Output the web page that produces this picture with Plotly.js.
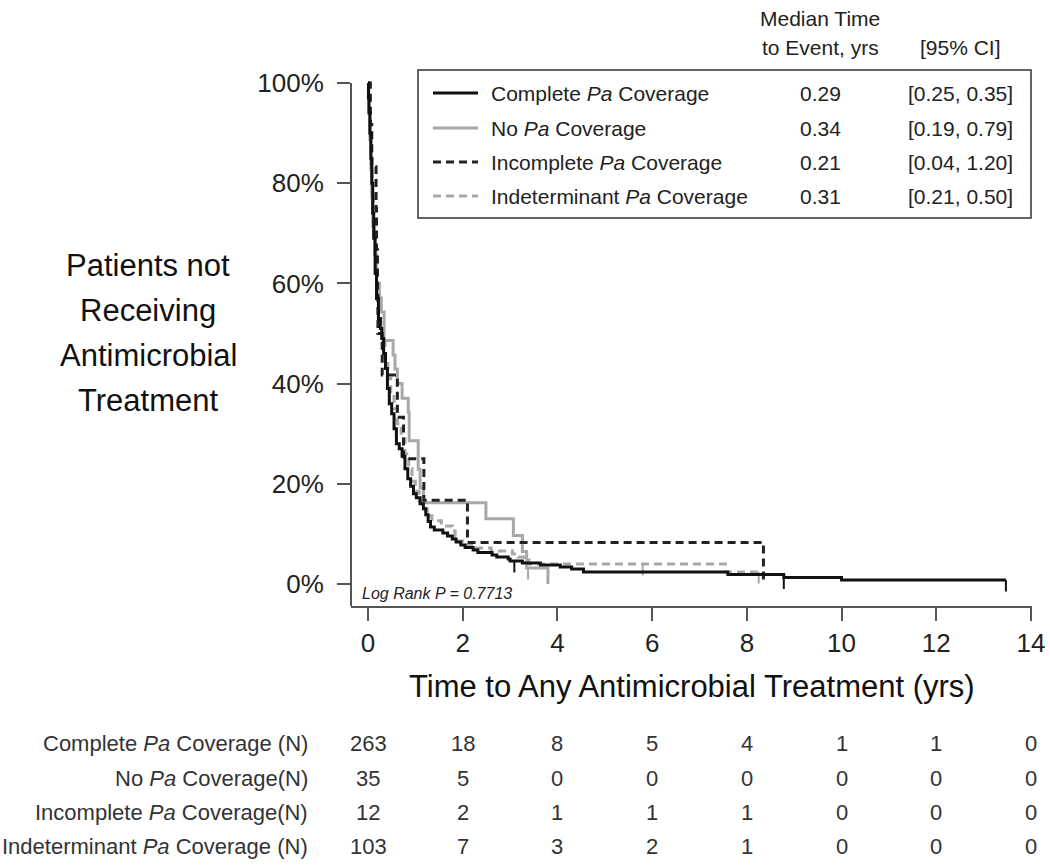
<!DOCTYPE html>
<html><head><meta charset="utf-8">
<script src="https://cdn.plot.ly/plotly-3.0.1.min.js"></script>
<style>html,body{margin:0;padding:0;background:#fff}</style>
</head><body><div id="chart" style="width:1050px;height:868px"></div>
<script>
// ---------- DATA ----------
const groupLabels = ['Complete <i>Pa</i> Coverage', 'No <i>Pa</i> Coverage', 'Incomplete <i>Pa</i> Coverage', 'Indeterminant <i>Pa</i> Coverage'];
const riskLabels = ['Complete <i>Pa</i> Coverage (N)', 'No <i>Pa</i> Coverage(N)', 'Incomplete <i>Pa</i> Coverage(N)', 'Indeterminant <i>Pa</i> Coverage (N)'];
const medianTimes = ['0.29', '0.34', '0.21', '0.31'];
const ciLabels = ['[0.25, 0.35]', '[0.19, 0.79]', '[0.04, 1.20]', '[0.21, 0.50]'];

const completeTime = [0,0.01,0.02,0.04,0.06,0.08,0.10,0.12,0.15,0.18,0.22,0.26,0.29,0.33,0.37,0.41,0.45,0.50,0.55,0.60,0.66,0.72,0.78,0.84,0.90,0.96,1.02,1.10,1.17,1.22,1.27,1.32,1.40,1.58,1.68,1.78,1.86,1.96,2.05,2.22,2.32,2.62,2.72,2.96,3.00,3.26,3.64,4.06,4.30,4.55,7.60,8.78,10.0,13.47];
const completeSurv = [100,97,94,90,85,80,74,69,62,57,53,51,49,46,43,39,36,34,31,28,27,25.5,23,21,19.5,18,17.2,16,15,13.8,12.5,11.4,10.8,10.2,9.6,9.0,8.4,7.8,7.3,6.8,6.3,5.8,5.4,5.0,4.6,4.2,3.8,3.4,3.0,2.4,1.9,1.3,0.8,0.8];
const completeCensor = [3.09, 8.78, 13.47];

const noPaTime = [0,0.02,0.04,0.06,0.08,0.10,0.14,0.18,0.24,0.28,0.34,0.53,0.57,0.62,0.72,0.85,0.87,1.06,1.10,1.17,2.49,3.07,3.26,3.35,3.80];
const noPaSurv = [100,94.3,88.6,82.9,77.1,71.4,65.7,60,57.1,54.3,48.6,45.7,42.9,40.0,37.1,34.3,28.6,22.9,19.2,16.2,13.0,9.7,6.5,3.2,0];
const noPaCensor = [3.38];

const incompleteTime = [0,0.05,0.08,0.17,0.18,0.20,0.21,0.30,0.62,0.75,1.18,2.10,8.35];
const incompleteSurv = [100,91.7,83.3,75,66.7,58.3,50,41.7,33.3,25,16.7,8.3,0];
const incompleteCensor = [];

const indetTime = [0,0.01,0.03,0.05,0.07,0.09,0.12,0.15,0.19,0.23,0.27,0.31,0.36,0.42,0.48,0.55,0.62,0.70,0.78,0.86,0.93,1.00,1.08,1.17,1.25,1.35,1.55,1.78,1.84,1.88,2.05,2.28,2.60,3.05,3.17,3.30,3.40,7.55,8.25];
const indetSurv = [100,97,93,88,83,78,72,66,60,56,52,49,45,41,38,35,32,29,26,23,20.5,18.5,16.5,15,13.6,12.6,11.6,10.6,9.5,8.6,7.8,7.2,6.6,6.0,5.4,4.8,4.0,2.4,2.4];
const indetCensor = [5.8, 8.25];

const riskTimes = [0, 2, 4, 6, 8, 10, 12, 14];
const riskComplete = [263, 18, 8, 5, 4, 1, 1, 0];
const riskNoPa = [35, 5, 0, 0, 0, 0, 0, 0];
const riskIncomplete = [12, 2, 1, 1, 1, 0, 0, 0];
const riskIndet = [103, 7, 3, 2, 1, 0, 0, 0];

const xTicks = [0, 2, 4, 6, 8, 10, 12, 14];
const yTicks = [0, 20, 40, 60, 80, 100];

// ---------- STYLE ----------
const FONT = 'Liberation Sans, Arial, sans-serif';
const BLACK = '#111111', GRAY = '#a8a8a8';
const styles = [
  {color: BLACK, dash: 'solid'},
  {color: GRAY, dash: 'solid'},
  {color: '#222222', dash: '8px,5px'},
  {color: GRAY, dash: '8px,5px'}
];
const L = 351, R = 1032, T = 78, B = 606;
const px = p => (p - L) / (R - L);
const py = p => (B - p) / (B - T);
const pxPerYr = 47.36, pxPerPct = 5.01;
const xRange = [(L - 368) / pxPerYr, 14 + (R - 1031) / pxPerYr];
const yRange = [(584 - B) / pxPerPct, (584 - T) / pxPerPct];

function stepAt(times, surv, t) {
  let v = surv[0];
  for (let i = 0; i < times.length; i++) if (times[i] <= t) v = surv[i];
  return v;
}

const groups = [
  [completeTime, completeSurv, completeCensor],
  [noPaTime, noPaSurv, noPaCensor],
  [incompleteTime, incompleteSurv, incompleteCensor],
  [indetTime, indetSurv, indetCensor]
];

const traces = [];
// draw order: gray first so black on top
[1, 3, 2, 0].forEach(gi => {
  const [t, s, c] = groups[gi];
  const st = styles[gi];
  traces.push({x: t, y: s, type: 'scatter', mode: 'lines', line: {shape: 'hv', color: st.color, width: 3, dash: st.dash}, showlegend: false, hoverinfo: 'skip'});
  if (c.length) {
    const cx = [], cy = [];
    c.forEach(ct => { const v = stepAt(t, s, ct); cx.push(ct, ct, null); cy.push(v, v - 2.3, null); });
    traces.push({x: cx, y: cy, type: 'scatter', mode: 'lines', line: {color: st.color, width: 2}, showlegend: false, hoverinfo: 'skip'});
  }
});

const ann = [];
const shapes = [];
// left spine
shapes.push({type: 'line', xref: 'paper', yref: 'y', x0: 0, x1: 0, y0: 100, y1: yRange[0], line: {color: '#555', width: 2}});
// legend box
shapes.push({type: 'rect', xref: 'paper', yref: 'paper', x0: px(418), x1: px(1031), y0: py(70), y1: py(218), line: {color: '#333', width: 1.5}, fillcolor: 'rgba(0,0,0,0)'});
const rowY = [93, 128, 162, 196];
groupLabels.forEach((g, i) => {
  shapes.push({type: 'line', xref: 'paper', yref: 'paper', x0: px(433), x1: px(478), y0: py(rowY[i]), y1: py(rowY[i]), line: {color: styles[i].color, width: 3, dash: styles[i].dash}});
  ann.push({xref: 'paper', yref: 'paper', x: px(489), y: py(rowY[i]), xanchor: 'left', yanchor: 'middle', text: g, showarrow: false, font: {size: 21, color: '#222'}});
  ann.push({xref: 'paper', yref: 'paper', x: px(820), y: py(rowY[i]), xanchor: 'center', yanchor: 'middle', text: medianTimes[i], showarrow: false, font: {size: 21, color: '#222'}});
  ann.push({xref: 'paper', yref: 'paper', x: px(960), y: py(rowY[i]), xanchor: 'center', yanchor: 'middle', text: ciLabels[i], showarrow: false, font: {size: 21, color: '#222'}});
});
ann.push({xref: 'paper', yref: 'paper', x: px(820), y: py(18), xanchor: 'center', yanchor: 'middle', text: 'Median Time', showarrow: false, font: {size: 21, color: '#222'}});
ann.push({xref: 'paper', yref: 'paper', x: px(820), y: py(47), xanchor: 'center', yanchor: 'middle', text: 'to Event, yrs', showarrow: false, font: {size: 21, color: '#222'}});
ann.push({xref: 'paper', yref: 'paper', x: px(960), y: py(47), xanchor: 'center', yanchor: 'middle', text: '[95% CI]', showarrow: false, font: {size: 21, color: '#222'}});

// y title lines
['Patients not', 'Receiving', 'Antimicrobial', 'Treatment'].forEach((s, i) => {
  ann.push({xref: 'paper', yref: 'paper', x: px(148), y: py(265 + 45 * i), xanchor: 'center', yanchor: 'middle', text: s, showarrow: false, font: {size: 31, color: '#111'}});
});
// x title
ann.push({xref: 'paper', yref: 'paper', x: px(692), y: py(686), xanchor: 'center', yanchor: 'middle', text: 'Time to Any Antimicrobial Treatment (yrs)', showarrow: false, font: {size: 31, color: '#111'}});
// log rank
ann.push({xref: 'paper', yref: 'paper', x: px(360), y: py(593), xanchor: 'left', yanchor: 'middle', text: '<i>Log Rank P = 0.7713</i>', showarrow: false, font: {size: 16, color: '#222'}});

// risk table
const riskRows = [riskComplete, riskNoPa, riskIncomplete, riskIndet];
const riskY = [744, 778, 812, 846];
riskRows.forEach((row, i) => {
  ann.push({xref: 'paper', yref: 'paper', x: px(310), y: py(riskY[i]), xanchor: 'right', yanchor: 'middle', text: riskLabels[i], showarrow: false, font: {size: 22, color: '#333'}});
  row.forEach((n, j) => {
    ann.push({xref: 'x', yref: 'paper', x: riskTimes[j], y: py(riskY[i]), xanchor: 'center', yanchor: 'middle', text: String(n), showarrow: false, font: {size: 22, color: '#333'}});
  });
});

const layout = {
  width: 1050, height: 868,
  margin: {l: L, r: 1050 - R, t: T, b: 868 - B, pad: 0},
  paper_bgcolor: '#fff', plot_bgcolor: '#fff',
  font: {family: FONT, color: '#222'},
  showlegend: false,
  xaxis: {range: xRange, tickvals: xTicks, ticktext: xTicks.map(String), showgrid: false, zeroline: false,
    showline: true, linecolor: '#555', linewidth: 2, ticks: 'outside', ticklen: 13, tickwidth: 2, tickcolor: '#555',
    tickfont: {size: 26, color: '#222'}, ticklabelstandoff: 0},
  yaxis: {range: yRange, tickvals: yTicks, ticktext: yTicks.map(v => v + '%'), showgrid: false, zeroline: false,
    showline: false, ticks: 'outside', ticklen: 13, tickwidth: 2, tickcolor: '#555',
    tickfont: {size: 26, color: '#222'}, ticklabelstandoff: 8},
  annotations: ann,
  shapes: shapes
};

Plotly.newPlot('chart', traces, layout, {displayModeBar: false, staticPlot: true});
</script>
</body></html>
